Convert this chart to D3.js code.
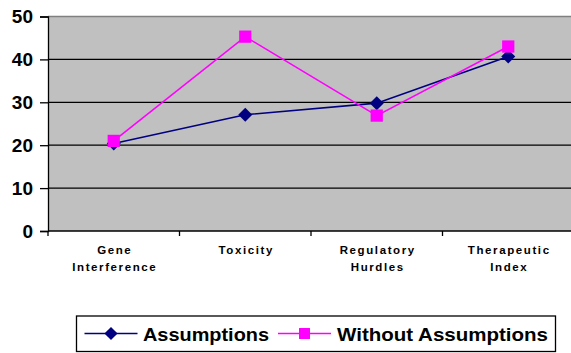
<!DOCTYPE html>
<html>
<head>
<meta charset="utf-8">
<script src="https://cdn.jsdelivr.net/npm/d3@7"></script>
<style>
  html, body { margin: 0; padding: 0; background: #fff; }
  svg { display: block; font-family: "Liberation Sans", Arial, sans-serif; }
</style>
</head>
<body>
<svg id="chart" width="571" height="353"></svg>
<script>
// Categories and the two series
const categories = [["Gene", "Interference"], ["Toxicity"], ["Regulatory", "Hurdles"], ["Therapeutic", "Index"]];
const assumptions = [20.4, 27.1, 29.8, 40.7];
const withoutAssumptions = [21.0, 45.3, 26.9, 43.0];
const yTicks = [0, 10, 20, 30, 40, 50];
const seriesNames = ["Assumptions", "Without Assumptions"];
const seriesColors = ["#000080", "#FF00FF"];

const svg = d3.select("#chart");
const plot = { left: 48, right: 574, top: 16.5, bottom: 231 };

const x = d3.scaleBand()
  .domain(d3.range(categories.length))
  .range([plot.left, plot.right])
  .paddingInner(0).paddingOuter(0);

const y = d3.scaleLinear().domain([0, 50]).range([plot.bottom, plot.top]);

// Plot background
svg.append("rect")
  .attr("x", plot.left).attr("y", plot.top)
  .attr("width", plot.right - plot.left).attr("height", plot.bottom - plot.top)
  .attr("fill", "#C0C0C0");

// Top border
svg.append("line")
  .attr("x1", plot.left).attr("x2", plot.right)
  .attr("y1", plot.top).attr("y2", plot.top)
  .attr("stroke", "#808080").attr("stroke-width", 1.5);

// Horizontal gridlines
svg.append("g").selectAll("line")
  .data(yTicks.filter(d => d > 0 && d < 50))
  .join("line")
  .attr("x1", plot.left).attr("x2", plot.right)
  .attr("y1", d => y(d)).attr("y2", d => y(d))
  .attr("stroke", "#000").attr("stroke-width", 1.3);

// Y axis
const yAxis = svg.append("g")
  .attr("transform", `translate(${plot.left},0)`)
  .call(d3.axisLeft(y).tickValues(yTicks).tickSize(8).tickPadding(7));
yAxis.select(".domain").attr("stroke", "#000").attr("stroke-width", 1.3);
yAxis.selectAll(".tick line").attr("stroke", "#000").attr("stroke-width", 1.3).attr("x2", -8);
yAxis.selectAll(".tick text")
  .attr("font-size", 19).attr("font-weight", "bold").attr("fill", "#000")
  .attr("font-family", "Liberation Sans, Arial, sans-serif");

// X axis with ticks at category boundaries
const boundaries = d3.range(categories.length).map(i => x(i));
svg.append("line")
  .attr("x1", plot.left).attr("x2", plot.right)
  .attr("y1", plot.bottom).attr("y2", plot.bottom)
  .attr("stroke", "#000").attr("stroke-width", 1.3);
svg.append("g").selectAll("line")
  .data(boundaries)
  .join("line")
  .attr("x1", d => d).attr("x2", d => d)
  .attr("y1", plot.bottom).attr("y2", plot.bottom + 5)
  .attr("stroke", "#000").attr("stroke-width", 1.3);

// Category labels
const labels = svg.append("g").selectAll("text")
  .data(categories)
  .join("text")
  .attr("text-anchor", "middle")
  .attr("font-size", 11.5).attr("font-weight", "bold")
  .attr("letter-spacing", 1.6)
  .attr("fill", "#000");
labels.each(function(lines, i) {
  const t = d3.select(this);
  lines.forEach((ln, j) => {
    t.append("tspan")
      .attr("x", x(i) + x.bandwidth() / 2 + 1)
      .attr("y", 254 + j * 16.7)
      .text(ln);
  });
});

const cx = i => x(i) + x.bandwidth() / 2;
const seriesData = [assumptions, withoutAssumptions];

// Lines
const line = d3.line().x((d, i) => cx(i)).y(d => y(d));
seriesData.forEach((vals, s) => {
  svg.append("path")
    .datum(vals)
    .attr("d", line)
    .attr("fill", "none")
    .attr("stroke", seriesColors[s])
    .attr("stroke-width", 1.6);
});

// Markers
const diamond = d3.symbol().type(d3.symbolDiamond2).size(125);
const square = d3.symbol().type(d3.symbolSquare).size(150);
svg.append("g").selectAll("path")
  .data(assumptions)
  .join("path")
  .attr("transform", (d, i) => `translate(${cx(i)},${y(d)})`)
  .attr("d", diamond)
  .attr("fill", seriesColors[0]);
svg.append("g").selectAll("path")
  .data(withoutAssumptions)
  .join("path")
  .attr("transform", (d, i) => `translate(${cx(i)},${y(d)})`)
  .attr("d", square)
  .attr("fill", seriesColors[1]);

// Legend
const legend = svg.append("g");
legend.append("rect")
  .attr("x", 76.5).attr("y", 316)
  .attr("width", 479).attr("height", 35.5)
  .attr("fill", "#fff").attr("stroke", "#000").attr("stroke-width", 1.3);

const legendItems = [
  { lx1: 84.5, lx2: 137.5, text: 143, tlen: 126, symbol: diamond },
  { lx1: 278, lx2: 331, text: 337, tlen: 211, symbol: square }
];
legendItems.forEach((it, s) => {
  const ly = 333.5;
  legend.append("line")
    .attr("x1", it.lx1).attr("x2", it.lx2)
    .attr("y1", ly).attr("y2", ly)
    .attr("stroke", seriesColors[s]).attr("stroke-width", 1.6);
  legend.append("path")
    .attr("transform", `translate(${(it.lx1 + it.lx2) / 2},${ly})`)
    .attr("d", s === 0 ? d3.symbol().type(d3.symbolDiamond2).size(110) : d3.symbol().type(d3.symbolSquare).size(120))
    .attr("fill", seriesColors[s]);
  legend.append("text")
    .attr("x", it.text).attr("y", 340.5)
    .attr("font-size", 18.5).attr("font-weight", "bold")
    .attr("textLength", it.tlen).attr("lengthAdjust", "spacingAndGlyphs")
    .attr("fill", "#000")
    .text(seriesNames[s]);
});
</script>
</body>
</html>
